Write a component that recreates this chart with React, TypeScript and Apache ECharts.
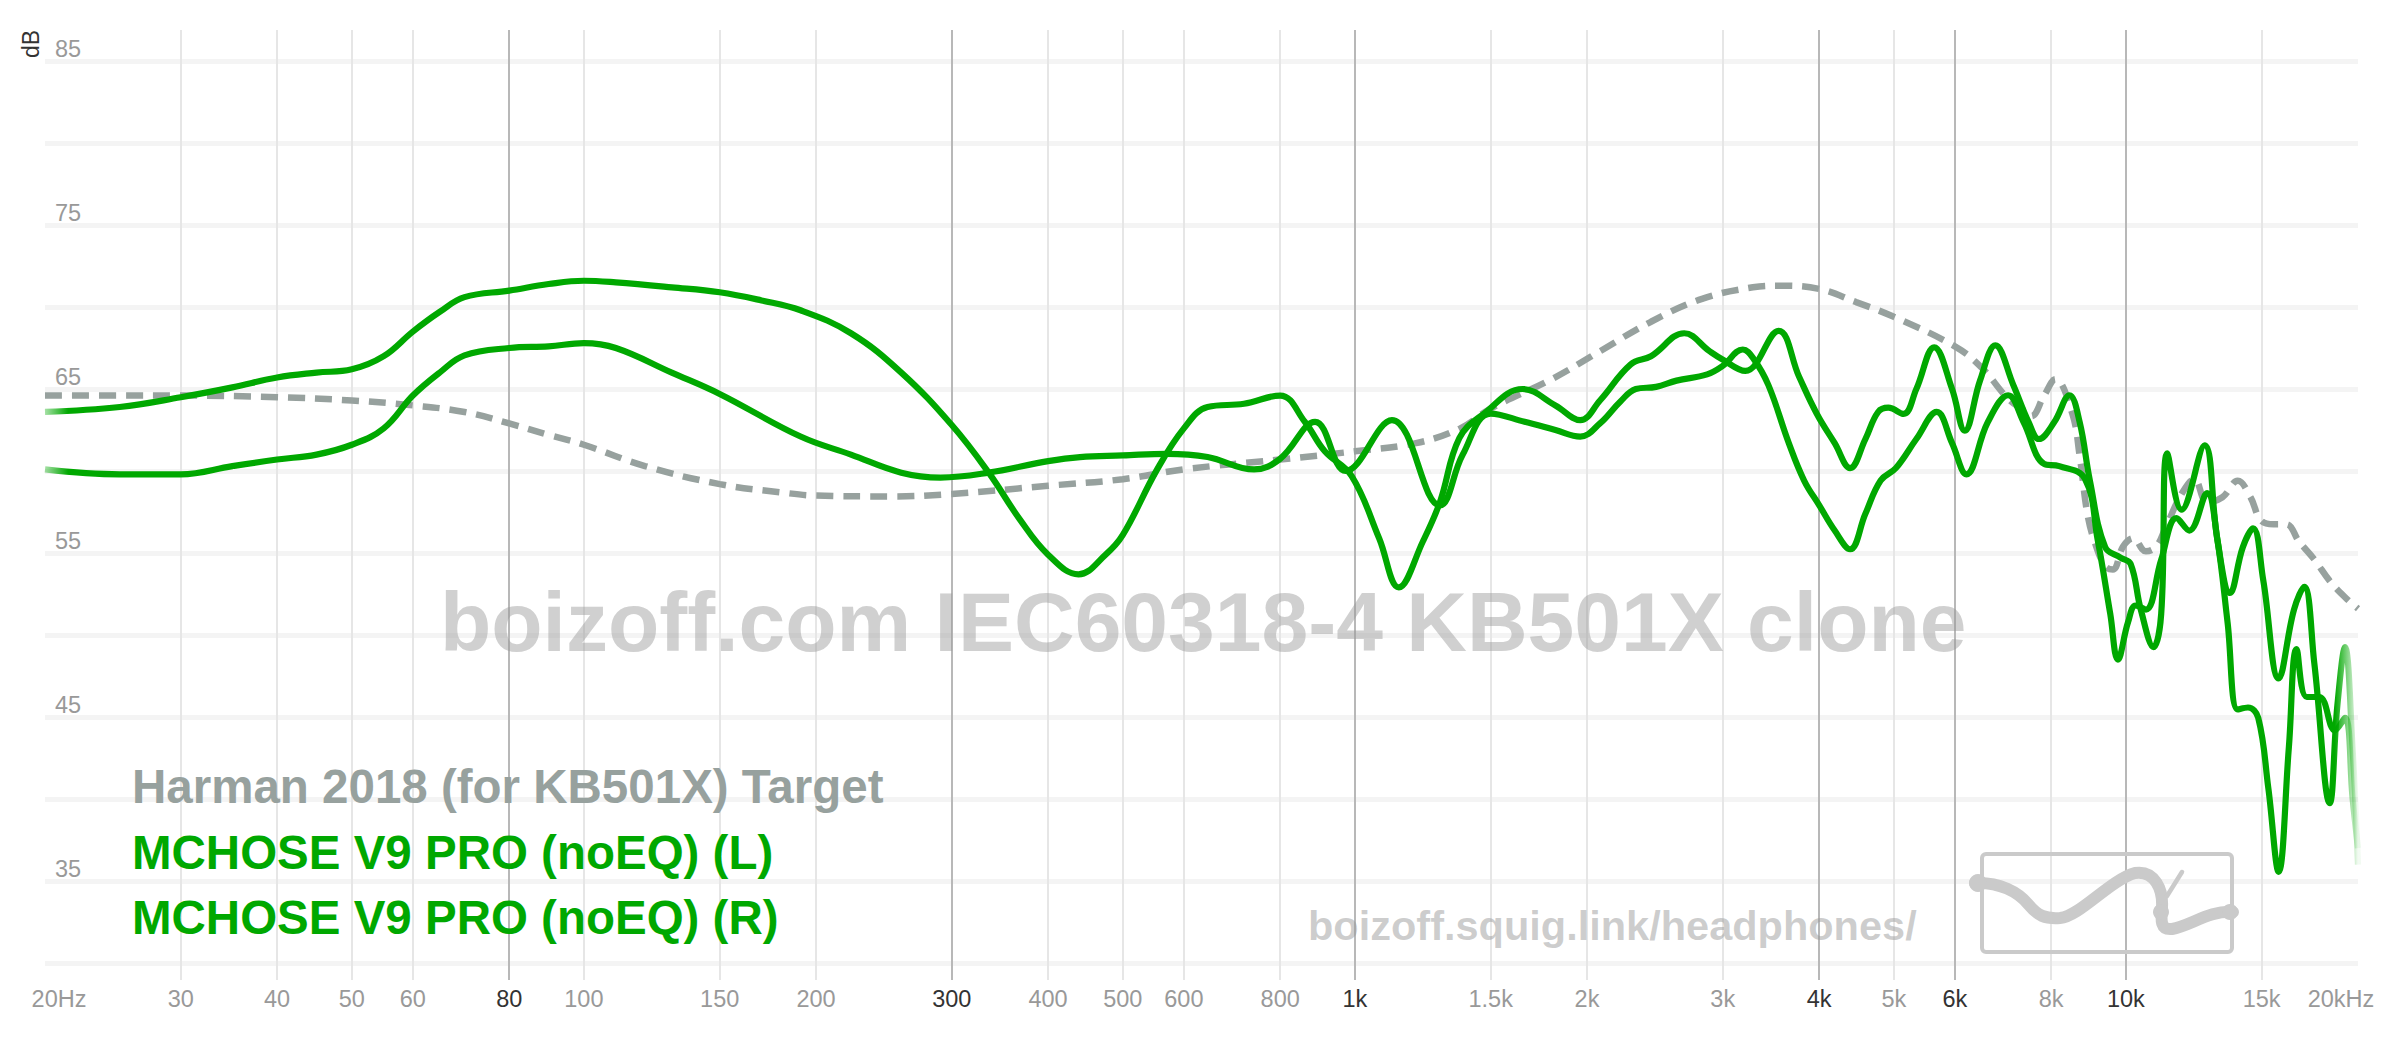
import React, { useEffect, useRef } from "react";
import * as echarts from "echarts";

// ---------- axis ticks ----------
const xTickFreqs = [20, 30, 40, 50, 60, 80, 100, 150, 200, 300, 400, 500, 600, 800, 1000, 1500, 2000, 3000, 4000, 5000, 6000, 8000, 10000, 15000, 20000];
const xTickLabels = ["20Hz", "30", "40", "50", "60", "80", "100", "150", "200", "300", "400", "500", "600", "800", "1k", "1.5k", "2k", "3k", "4k", "5k", "6k", "8k", "10k", "15k", "20kHz"];
const strongFreqs = [80, 300, 1000, 4000, 6000, 10000];
const gridFreqs = [30, 40, 50, 60, 80, 100, 150, 200, 300, 400, 500, 600, 800, 1000, 1500, 2000, 3000, 4000, 5000, 6000, 8000, 10000, 15000];
const yLabelValues = [35, 45, 55, 65, 75, 85];

// ---------- series ----------
const seriesNames = ["Harman 2018 (for KB501X) Target", "MCHOSE V9 PRO (noEQ) (L)", "MCHOSE V9 PRO (noEQ) (R)"];

const targetFreq = [20, 25, 30, 40, 50, 60, 70, 80, 90, 100, 120, 150, 180, 200, 250, 300, 400, 500, 600, 800, 1000, 1200, 1370, 1500, 1800, 2079, 2421, 2820, 3283, 3545, 4000, 4467, 5000, 6000, 6500, 7036, 7368, 7540, 7832, 8100, 8520, 8711, 8912, 9120, 9400, 9620, 9915, 10220, 10614, 10950, 11270, 11809, 12270, 12744, 13340, 13965, 14510, 14960, 15540, 16150, 16770, 17556, 18380, 19239, 20000];
const targetDb = [64.6, 64.6, 64.6, 64.5, 64.3, 64.0, 63.6, 62.9, 62.2, 61.6, 60.3, 59.2, 58.7, 58.5, 58.45, 58.6, 59.1, 59.5, 60.1, 60.7, 61.2, 61.7, 62.6, 63.8, 65.6, 67.3, 69.1, 70.5, 71.2, 71.3, 71.1, 70.3, 69.4, 67.6, 66.3, 64.4, 63.7, 63.35, 64.6, 65.6, 63.5, 60.9, 57.4, 55.6, 54.2, 54.0, 55.4, 55.9, 55.1, 55.4, 56.6, 58.6, 59.5, 58.1, 58.4, 59.4, 58.4, 57.0, 56.75, 56.75, 55.7, 54.6, 53.3, 52.3, 51.6];

const leftFreq = [20, 25, 30, 35, 40, 45, 50, 55, 60, 65, 70, 80, 90, 100, 110, 130, 150, 170, 191, 222, 258, 300, 335, 367, 400, 438, 475, 500, 554, 600, 644, 718, 800, 861, 914, 990, 1075, 1140, 1225, 1289, 1366, 1470, 1650, 1820, 1960, 2079, 2279, 2421, 2674, 2885, 2998, 3209, 3544, 3767, 3974, 4191, 4388, 4593, 4771, 4919, 5148, 5348, 5641, 5950, 6181, 6468, 6771, 7144, 7481, 7713, 8071, 8450, 8711, 8980, 9400, 9839, 10142, 10455, 10861, 11112, 11316, 11809, 12650, 13137, 13649, 14180, 14621, 15073, 15780, 16520, 17033, 17556, 18380, 18805, 19239, 19683, 20000];
const leftDb = [63.6, 63.9, 64.5, 65.1, 65.7, 66.0, 66.2, 67.0, 68.5, 69.7, 70.6, 71.0, 71.4, 71.6, 71.5, 71.2, 70.9, 70.4, 69.8, 68.4, 66.0, 62.8, 59.9, 57.1, 54.9, 53.7, 54.9, 56.1, 60.1, 62.6, 63.9, 64.1, 64.6, 63.0, 61.2, 59.7, 55.9, 52.9, 55.7, 58.1, 62.0, 63.5, 65.0, 64.0, 63.1, 64.3, 66.5, 67.0, 68.4, 67.3, 66.8, 66.1, 68.55, 65.76, 63.48, 61.7, 60.18, 61.95, 63.6, 63.86, 63.48, 65.0, 67.54, 65.0, 62.46, 65.51, 67.66, 65.25, 62.97, 61.95, 62.97, 64.62, 62.97, 59.42, 55.36, 54.72, 54.34, 51.55, 49.26, 51.3, 61.07, 57.64, 61.57, 55.86, 52.56, 55.36, 56.5, 53.32, 47.36, 51.55, 52.94, 48.25, 39.75, 45.71, 49.26, 43, 36];

const rightFreq = [20, 25, 30, 35, 40, 45, 50, 55, 60, 65, 70, 80, 90, 100, 110, 130, 150, 191, 222, 258, 290, 335, 400, 440, 500, 570, 644, 740, 800, 888, 973, 1117, 1289, 1380, 1500, 1660, 1820, 1960, 2079, 2210, 2314, 2458, 2613, 2863, 2998, 3185, 3283, 3437, 3654, 3825, 4004, 4191, 4388, 4593, 4807, 5032, 5348, 5684, 5950, 6210, 6619, 7036, 7368, 7832, 8195, 8845, 9187, 9543, 9764, 10065, 10297, 10614, 11112, 11631, 12083, 12744, 13137, 13546, 13965, 14400, 14846, 15304, 15780, 16270, 16646, 17163, 17825, 18663, 19239, 19683, 20000];
const rightDb = [60.1, 59.8, 59.8, 60.3, 60.7, 61.0, 61.6, 62.6, 64.6, 66.0, 67.05, 67.5, 67.6, 67.8, 67.5, 66.0, 64.7, 62.1, 61.0, 59.9, 59.6, 59.9, 60.6, 60.85, 60.95, 61.05, 60.85, 60.1, 60.75, 63.0, 60.0, 63.1, 57.9, 61.0, 63.5, 63.0, 62.5, 62.1, 62.9, 64.24, 65.0, 65.13, 65.51, 65.89, 66.4, 67.41, 66.9, 65.25, 61.7, 59.42, 57.89, 56.37, 55.23, 57.39, 59.42, 60.18, 61.95, 63.6, 61.7, 59.8, 62.97, 64.62, 62.97, 60.43, 60.3, 59.54, 55.86, 51.29, 48.5, 50.79, 51.8, 51.55, 54.59, 57.13, 56.37, 58.65, 55.86, 50.79, 45.46, 45.58, 44.95, 40.63, 35.56, 43.17, 49.14, 46.22, 46.22, 44.19, 44.95, 40, 37];

const watermarkText = "boizoff.com IEC60318-4 KB501X clone";
const urlText = "boizoff.squig.link/headphones/";

// ---------- styles ----------
const FONT = '"Liberation Sans", Arial, sans-serif';
const GREEN = "#00a800";
const TARGET_GRAY = "#97a19e";
const LOGO_GRAY = "#cacaca";

const logoPath =
  "M15 43 C 40 42, 58 52, 68 64 C 78 76, 85 79, 100 78 C 120 76, 150 40, 175 33 C 195 30, 203 50, 202 67 C 201 80, 200 90, 212 89 C 230 86, 250 70, 273 72";
const logoTickPath = "M 207 56 L 222 32";
echarts.graphic.registerShape("squigLogo", echarts.graphic.extendPath(logoPath, {}));
echarts.graphic.registerShape("squigTick", echarts.graphic.extendPath(logoTickPath, {}));

const pairs = (f: number[], d: number[]) => f.map((v, i) => [v, d[i]]);

const greenGradient = () =>
  new echarts.graphic.LinearGradient(0, 0, 1, 0, [
    { offset: 0, color: "rgba(0,168,0,0.35)" },
    { offset: 0.01, color: GREEN },
    { offset: 0.99, color: GREEN },
    { offset: 1, color: "rgba(0,168,0,0.05)" },
  ]);

function tickIndex(v: number) {
  return xTickFreqs.findIndex((f) => Math.abs(f - v) / f < 1e-6);
}

function buildOption() {
  const last = xTickFreqs.length - 1;
  const legendY = [786, 852, 917];
  const legendColors = [TARGET_GRAY, GREEN, GREEN];
  return {
    animation: false,
    backgroundColor: "#ffffff",
    grid: [
      { left: 45, right: 42, top: 61, height: 902 },
      { left: 45, right: 42, top: 30, height: 950 },
    ],
    xAxis: [
      { type: "log", gridIndex: 0, min: 20, max: 20000, show: false },
      {
        type: "log",
        gridIndex: 1,
        min: 20,
        max: 20000,
        axisLine: { show: false },
        axisTick: { show: false },
        splitLine: { show: false },
        axisLabel: {
          customValues: xTickFreqs,
          margin: 7,
          fontFamily: FONT,
          fontSize: 23.5,
          color: "#999999",
          formatter: (v: number) => {
            const i = tickIndex(v);
            if (i < 0) return "";
            const lab = xTickLabels[i];
            if (i === 0) return `{first|${lab}}`;
            if (i === last) return `{last|${lab}}`;
            return strongFreqs.includes(xTickFreqs[i]) ? `{strong|${lab}}` : `{weak|${lab}}`;
          },
          rich: {
            first: { color: "#999999", fontSize: 23.5, fontFamily: FONT, padding: [0, 0, 0, 28] },
            last: { color: "#999999", fontSize: 23.5, fontFamily: FONT, padding: [0, 34, 0, 0] },
            strong: { color: "#333333", fontSize: 23.5, fontFamily: FONT },
            weak: { color: "#999999", fontSize: 23.5, fontFamily: FONT },
          },
        },
      },
    ],
    yAxis: [
      {
        type: "value",
        gridIndex: 0,
        min: 30,
        max: 85,
        interval: 5,
        axisLine: { show: false },
        axisTick: { show: false },
        splitLine: { show: true, lineStyle: { color: "#f4f4f4", width: 5 } },
        axisLabel: {
          inside: true,
          margin: 10,
          verticalAlign: "bottom",
          color: "#999999",
          fontSize: 23.5,
          fontFamily: FONT,
          formatter: (v: number) => (yLabelValues.includes(v) ? String(v) : ""),
        },
      },
      { type: "value", gridIndex: 1, min: 0, max: 1, show: false },
    ],
    series: [
      {
        type: "line",
        xAxisIndex: 1,
        yAxisIndex: 1,
        data: [[20, 0]],
        symbol: "none",
        silent: true,
        lineStyle: { opacity: 0 },
        z: 1,
        markLine: {
          silent: true,
          symbol: ["none", "none"],
          label: { show: false },
          z: 1,
          data: gridFreqs.map((f) => ({
            xAxis: f,
            lineStyle: {
              color: strongFreqs.includes(f) ? "#b8b8b8" : "#e6e6e6",
              width: 2,
              type: "solid",
            },
          })),
        },
      },
      {
        name: seriesNames[0],
        type: "line",
        xAxisIndex: 0,
        yAxisIndex: 0,
        data: pairs(targetFreq, targetDb),
        smooth: 0.4,
        symbol: "none",
        z: 3,
        lineStyle: { color: TARGET_GRAY, width: 6.5, type: [17, 10] },
      },
      {
        name: seriesNames[1],
        type: "line",
        xAxisIndex: 0,
        yAxisIndex: 0,
        data: pairs(leftFreq, leftDb),
        smooth: 0.4,
        symbol: "none",
        z: 4,
        lineStyle: { color: greenGradient(), width: 6.2 },
      },
      {
        name: seriesNames[2],
        type: "line",
        xAxisIndex: 0,
        yAxisIndex: 0,
        data: pairs(rightFreq, rightDb),
        smooth: 0.4,
        symbol: "none",
        z: 4,
        lineStyle: { color: greenGradient(), width: 6.2 },
      },
    ],
    graphic: {
      elements: [
        {
          type: "text",
          x: 31,
          y: 44,
          rotation: Math.PI / 2,
          z: 5,
          style: { text: "dB", font: `23px ${FONT}`, fill: "#333333", align: "center", verticalAlign: "middle", textAlign: "center", textVerticalAlign: "middle" },
        },
        {
          type: "text",
          x: 440,
          y: 622,
          z: 2,
          style: { text: watermarkText, font: `bold 84px ${FONT}`, fill: "rgba(150,150,150,0.45)", align: "left", verticalAlign: "middle", textAlign: "left", textVerticalAlign: "middle" },
        },
        {
          type: "text",
          x: 1308,
          y: 925,
          z: 2,
          style: { text: urlText, font: `bold 41.5px ${FONT}`, fill: "rgba(150,150,150,0.47)", align: "left", verticalAlign: "middle", textAlign: "left", textVerticalAlign: "middle" },
        },
        {
          type: "rect",
          z: 2,
          shape: { x: 1982, y: 854, width: 250, height: 98, r: 4 },
          style: { fill: "none", stroke: LOGO_GRAY, lineWidth: 4 },
        },
        {
          type: "squigLogo",
          x: 1960,
          y: 840,
          z: 2,
          style: { fill: "none", stroke: LOGO_GRAY, lineWidth: 12, lineCap: "round", lineJoin: "round" },
        },
        {
          type: "squigTick",
          x: 1960,
          y: 840,
          z: 2,
          style: { fill: "none", stroke: LOGO_GRAY, lineWidth: 4.5, lineCap: "round" },
        },
        { type: "circle", z: 2, shape: { cx: 1978, cy: 883, r: 9 }, style: { fill: LOGO_GRAY } },
        { type: "circle", z: 2, shape: { cx: 2230, cy: 912, r: 8 }, style: { fill: LOGO_GRAY } },
        { type: "circle", z: 2, shape: { cx: 2161, cy: 912, r: 8 }, style: { fill: LOGO_GRAY } },
        ...seriesNames.map((name, i) => ({
          type: "text",
          x: 132,
          y: legendY[i],
          z: 10,
          style: { text: name, font: `bold 47.5px ${FONT}`, fill: legendColors[i], align: "left", verticalAlign: "middle", textAlign: "left", textVerticalAlign: "middle" },
        })),
      ],
    },
  };
}

export default function App() {
  const ref = useRef<HTMLDivElement>(null);
  useEffect(() => {
    if (!ref.current) return;
    const chart = echarts.init(ref.current, null, { renderer: "svg" });
    chart.setOption(buildOption() as any);
    return () => chart.dispose();
  }, []);
  return (
    <div
      ref={ref}
      style={{ position: "fixed", left: 0, top: 0, width: 2400, height: 1038, background: "#ffffff" }}
    />
  );
}
